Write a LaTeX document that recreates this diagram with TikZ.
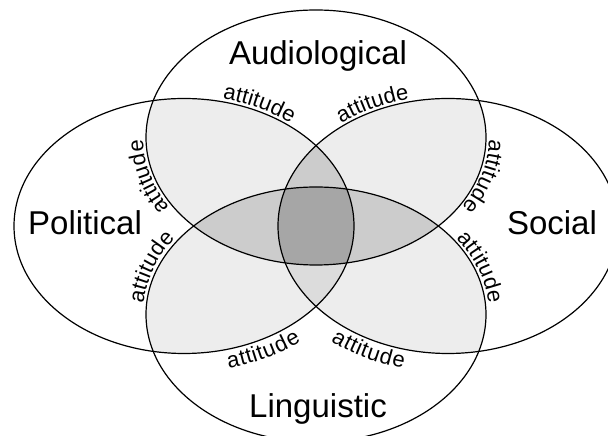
\documentclass[tikz,border=0pt]{standalone}
\usepackage{fontspec}
\setmainfont{Liberation Sans}
\usetikzlibrary{decorations.text}

\definecolor{paleshade}{HTML}{EDEDED}
\definecolor{midshade}{HTML}{CCCCCC}
\definecolor{lowshade}{HTML}{DCDCDC}
\definecolor{deepshade}{HTML}{A6A6A6}

\begin{document}
\begin{tikzpicture}[x=1pt, y=1pt,
		rad/.style={x radius=170pt, y radius=127.5pt},
		ring/.style={draw=black, line width=1.2pt},
		area/.style={font=\fontsize{33}{38}\selectfont, inner sep=0pt, anchor=base},
		att/.style={decorate, decoration={text along path, text align=center, raise=#1,
			text={|\fontsize{22}{26}\selectfont|attitude}}}]
	\clip (0,0) rectangle (608,436);

	\coordinate (aud) at (316,298.5);
	\coordinate (pol) at (184,210);
	\coordinate (soc) at (448,210);
	\coordinate (lin) at (316,121.5);

	% two overlaps
	\begin{scope}
		\clip (aud) ellipse[rad];
		\fill[paleshade] (pol) ellipse[rad];
		\fill[paleshade] (soc) ellipse[rad];
	\end{scope}
	\begin{scope}
		\clip (lin) ellipse[rad];
		\fill[paleshade] (pol) ellipse[rad];
		\fill[paleshade] (soc) ellipse[rad];
	\end{scope}

	% three overlaps
	\begin{scope}
		\clip (pol) ellipse[rad];
		\clip (soc) ellipse[rad];
		\fill[midshade] (aud) ellipse[rad];
		\fill[lowshade] (lin) ellipse[rad];
	\end{scope}
	\begin{scope}
		\clip (aud) ellipse[rad];
		\clip (lin) ellipse[rad];
		\fill[midshade] (pol) ellipse[rad];
		\fill[midshade] (soc) ellipse[rad];
	\end{scope}

	% all four
	\begin{scope}
		\clip (aud) ellipse[rad];
		\clip (lin) ellipse[rad];
		\clip (pol) ellipse[rad];
		\fill[deepshade] (soc) ellipse[rad];
	\end{scope}

	\draw[ring] (aud) ellipse[rad];
	\draw[ring] (pol) ellipse[rad];
	\draw[ring] (soc) ellipse[rad];
	\draw[ring] (lin) ellipse[rad];

	\node[area] (audlabel) at (318,371) {Audiological};
	\node[area] (pollabel) at (85,201) {Political};
	\node[area] (soclabel) at (552,201) {Social};
	\node[area] (linlabel) at (318,18) {Linguistic};

	% attitude labels along the rims
	\path[att=3pt] (pol) ++(84:170pt and 127.5pt) arc[start angle=84, end angle=44, rad];
	\path[att=3pt] (soc) ++(136:170pt and 127.5pt) arc[start angle=136, end angle=96, rad];
	\path[att=3pt] (aud) ++(220:170pt and 127.5pt) arc[start angle=220, end angle=172, rad];
	\path[att=3pt] (aud) ++(8:170pt and 127.5pt) arc[start angle=8, end angle=-40, rad];
	\path[att=3pt] (lin) ++(184:170pt and 127.5pt) arc[start angle=184, end angle=137, rad];
	\path[att=3pt] (lin) ++(43:170pt and 127.5pt) arc[start angle=43, end angle=-4, rad];
	\path[att=-19pt] (pol) ++(277:170pt and 127.5pt) arc[start angle=277, end angle=317, rad];
	\path[att=-19pt] (soc) ++(223:170pt and 127.5pt) arc[start angle=223, end angle=263, rad];
\end{tikzpicture}
\end{document}
